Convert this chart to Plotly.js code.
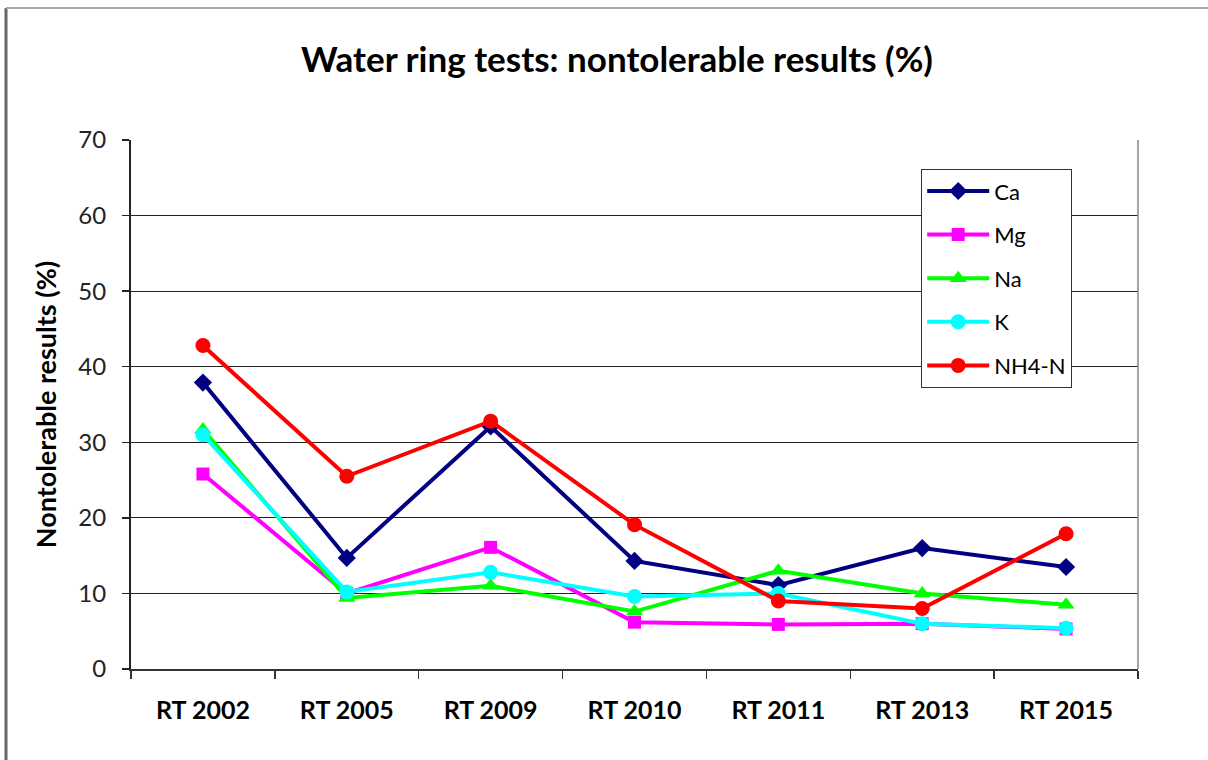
<!DOCTYPE html>
<html>
<head>
<meta charset="utf-8">
<script src="https://cdn.plot.ly/plotly-3.0.1.min.js"></script>
<style>html,body{margin:0;padding:0;background:#fff;}#chart{width:1208px;height:760px;}</style>
</head>
<body>
<div id="chart"></div>
<script>
const categories = ["RT 2002", "RT 2005", "RT 2009", "RT 2010", "RT 2011", "RT 2013", "RT 2015"];
const ca   = [37.9, 14.7, 32.1, 14.3, 11.1, 16.0, 13.5];
const mg   = [25.8, 10.0, 16.1,  6.2,  5.9,  6.0,  5.3];
const na   = [31.7,  9.4, 11.0,  7.6, 13.0, 10.0,  8.5];
const k    = [31.0, 10.2, 12.8,  9.6, 10.0,  6.0,  5.4];
const nh4n = [42.8, 25.5, 32.8, 19.1,  9.0,  8.0, 17.9];
const seriesNames = ["Ca", "Mg", "Na", "K", "NH4-N"];

const FONT = "Lato, 'Open Sans', sans-serif";
const L = 131, R = 1138, T = 140, B = 669;
const W = 1208, H = 760;

function tr(name, y, color, symbol, size) {
  return {
    type: "scatter", mode: "lines+markers", name: name, x: categories, y: y,
    legendgroup: name,
    line: {color: color, width: 4},
    marker: {color: color, symbol: symbol, size: size}
  };
}
const data = [
  tr(seriesNames[0], ca, "#000080", "diamond", 14),
  tr(seriesNames[1], mg, "#FF00FF", "square", 13),
  tr(seriesNames[2], na, "#00FF00", "triangle-up", 15),
  tr(seriesNames[3], k, "#00FFFF", "circle", 15),
  tr(seriesNames[4], nh4n, "#FF0000", "circle", 15)
];

const px = v => (v - L) / (R - L);
const py = v => (B - v) / (B - T);

const layout = {
  width: W, height: H,
  margin: {l: L, r: W - R, t: T, b: H - B, pad: 0},
  paper_bgcolor: "#ffffff", plot_bgcolor: "#ffffff",
  font: {family: FONT, color: "#000", size: 20},
  title: {text: "<b>Water ring tests: nontolerable results (%)</b>", font: {family: FONT, size: 35, color: "#000"},
          x: 0.4826, xanchor: "center", y: 1 - 60 / H, yanchor: "middle", xref: "paper"},
  xaxis: {
    type: "category", range: [-0.5, 6.5],
    showline: true, linecolor: "#333", linewidth: 2, mirror: false,
    ticks: "outside", ticklen: 8, tickwidth: 1.5, tickcolor: "#333", tickson: "boundaries",
    showgrid: false, zeroline: false,
    tickfont: {family: FONT, size: 25, color: "#000", weight: "bold"},
    ticklabelstandoff: 18
  },
  yaxis: {
    range: [0, 70], dtick: 10, tick0: 0,
    showline: true, linecolor: "#222", linewidth: 2,
    ticks: "outside", ticklen: 7, tickwidth: 1.5, tickcolor: "#222",
    showgrid: true, gridcolor: "#222", gridwidth: 1.2, zeroline: false,
    tickfont: {family: FONT, size: 24, color: "#222"},
    ticklabelstandoff: 11,
    title: {text: "<b>Nontolerable results (%)</b>", font: {family: FONT, size: 27, color: "#000"}, standoff: 14}
  },
  legend: {
    x: px(921), y: py(169), xanchor: "left", yanchor: "top",
    bgcolor: "#ffffff", bordercolor: "#333", borderwidth: 1.2,
    font: {family: FONT, size: 22, color: "#000"},
    tracegroupgap: 12, traceorder: "grouped", itemwidth: 62
  },
  showlegend: true,
  shapes: [
    {type: "line", xref: "paper", yref: "paper", x0: px(R), x1: px(R), y0: 0, y1: 1, line: {color: "#888", width: 1.5}},
    {type: "line", xref: "paper", yref: "paper", x0: px(6), x1: px(6), y0: py(8), y1: py(760), line: {color: "#666", width: 3}},
    {type: "line", xref: "paper", yref: "paper", x0: px(6), x1: px(1208), y0: py(8), y1: py(8), line: {color: "#aaa", width: 2}}
  ]
};

Plotly.newPlot("chart", data, layout, {displayModeBar: false, staticPlot: true});
</script>
</body>
</html>
